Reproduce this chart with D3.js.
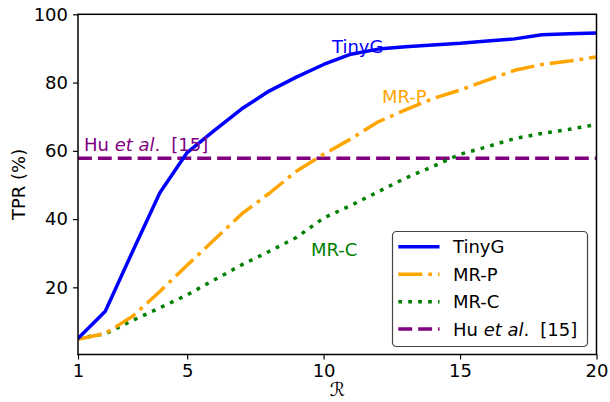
<!DOCTYPE html>
<html>
<head>
<meta charset="utf-8">
<script src="https://cdn.jsdelivr.net/npm/d3@7"></script>
<style>
  html, body { margin: 0; padding: 0; background: #fff; }
  svg { display: block; font-family: "DejaVu Sans", sans-serif; }
</style>
</head>
<body>
<svg id="chart" width="610" height="402"></svg>
<script>
const rValues = [1,2,3,4,5,6,7,8,9,10,11,12,13,14,15,16,17,18,19,20];
const tinyG = [5, 13, 30.5, 47.7, 59.5, 66, 72.3, 77.5, 81.6, 85.3, 88.3, 89.8, 90.5, 91, 91.5, 92.2, 92.8, 94, 94.3, 94.5];
const mrP   = [4.8, 6.5, 11.5, 18.8, 26.5, 34, 41.5, 47.5, 54, 59, 63.5, 68.5, 72, 75.3, 77.8, 80.7, 83.6, 85.3, 86.3, 87.5];
const mrC   = [5, 6.4, 10.3, 14, 17.8, 22.2, 26.6, 30.5, 34.6, 40.3, 44, 48, 52, 55.4, 59, 61.2, 63.6, 65.1, 66.3, 67.7];
const huBaseline = 57.8;
const xTicks = [1, 5, 10, 15, 20];
const yTicks = [20, 40, 60, 80, 100];
const seriesNames = ["TinyG", "MR-P", "MR-C", "Hu"];

(function () {
const svg = d3.select("#chart");
const pL = 78, pR = 596.5, pT = 14.3, pB = 354.5;
const x = d3.scaleLinear().domain([1, 20]).range([pL, pR]);
const y = d3.scaleLinear().domain([0, 100]).range([355.6, 14.3]);

const lw = 3.5;
const u = 3.75;
const styles = {
  "TinyG": { color: "#0000ff", dash: null },
  "MR-P":  { color: "#ffa500", dash: [6.4*u, 1.6*u, 1*u, 1.6*u].join(",") },
  "MR-C":  { color: "#008000", dash: [1*u, 1.65*u].join(",") },
  "Hu":    { color: "#800080", dash: [3.7*u, 1.6*u].join(",") }
};

svg.append("clipPath").attr("id", "clip")
  .append("rect").attr("x", pL).attr("y", pT).attr("width", pR - pL).attr("height", pB - pT);

const line = d3.line().x(d => x(d[0])).y(d => y(d[1]));
const g = svg.append("g").attr("clip-path", "url(#clip)");

function drawSeries(name, vals) {
  const s = styles[name];
  g.append("path")
    .datum(rValues.map((r, i) => [r, vals[i]]))
    .attr("d", line)
    .attr("fill", "none")
    .attr("stroke", s.color)
    .attr("stroke-width", lw)
    .attr("stroke-linejoin", "round")
    .attr("stroke-dasharray", s.dash);
}
g.append("path")
  .datum([[1, huBaseline], [20, huBaseline]])
  .attr("d", line)
  .attr("fill", "none")
  .attr("stroke", styles["Hu"].color)
  .attr("stroke-width", lw)
  .attr("stroke-dasharray", styles["Hu"].dash);
drawSeries("MR-C", mrC);
drawSeries("MR-P", mrP);
drawSeries("TinyG", tinyG);

svg.append("rect").attr("x", pL).attr("y", pT).attr("width", pR - pL).attr("height", pB - pT)
  .attr("fill", "none").attr("stroke", "#000").attr("stroke-width", 1.5);

const fs = 18;
const xAxis = d3.axisBottom(x).tickValues(xTicks).tickSize(5).tickPadding(5).tickFormat(d3.format("d"));
const xg = svg.append("g").attr("transform", `translate(0,${pB})`).call(xAxis);
const yAxis = d3.axisLeft(y).tickValues(yTicks).tickSize(5).tickPadding(5).tickFormat(d3.format("d"));
const yg = svg.append("g").attr("transform", `translate(${pL},0)`).call(yAxis);
[xg, yg].forEach(a => {
  a.select(".domain").remove();
  a.selectAll(".tick line").attr("stroke", "#000").attr("stroke-width", 1.2);
  a.selectAll(".tick text").attr("font-size", fs).attr("font-family", "DejaVu Sans").attr("fill", "#000");
});

svg.append("text").attr("x", (pL + pR) / 2).attr("y", 396).attr("text-anchor", "middle")
  .attr("font-size", 19).attr("font-style", "italic").attr("font-family", "DejaVu Sans").text("ℛ");
svg.append("text").attr("transform", `translate(25,${(pT + pB) / 2}) rotate(-90)`)
  .attr("text-anchor", "middle").attr("font-size", fs).text("TPR (%)");

svg.append("text").attr("x", 332).attr("y", 53).attr("font-size", fs).attr("fill", styles["TinyG"].color).text("TinyG");
svg.append("text").attr("x", 382).attr("y", 103).attr("font-size", fs).attr("fill", styles["MR-P"].color).text("MR-P");
svg.append("text").attr("x", 311).attr("y", 256).attr("font-size", fs).attr("fill", styles["MR-C"].color).text("MR-C");

function huLabel(t) {
  t.append("tspan").text("Hu ");
  t.append("tspan").attr("font-style", "italic").text("et al");
  t.append("tspan").text(".");
  t.append("tspan").attr("dx", 11).text("[15]");
}
huLabel(svg.append("text").attr("x", 84).attr("y", 151).attr("font-size", fs).attr("fill", styles["Hu"].color));

const lg = svg.append("g");
lg.append("rect").attr("x", 392.5).attr("y", 231.5).attr("width", 195).attr("height", 115).attr("rx", 4)
  .attr("fill", "#fff").attr("stroke", "#444").attr("stroke-width", 1.2);
const rows = [246.7, 274.3, 301.7, 329];
seriesNames.forEach((n, i) => {
  const s = styles[n];
  lg.append("line").attr("x1", 398.3).attr("x2", 439.5).attr("y1", rows[i]).attr("y2", rows[i])
    .attr("stroke", s.color).attr("stroke-width", lw).attr("stroke-dasharray", s.dash);
  const t = lg.append("text").attr("x", 453).attr("y", rows[i] + 6.5).attr("font-size", fs).attr("fill", "#000");
  if (n === "Hu") huLabel(t); else t.text(n);
});
})();
</script>
</body>
</html>
